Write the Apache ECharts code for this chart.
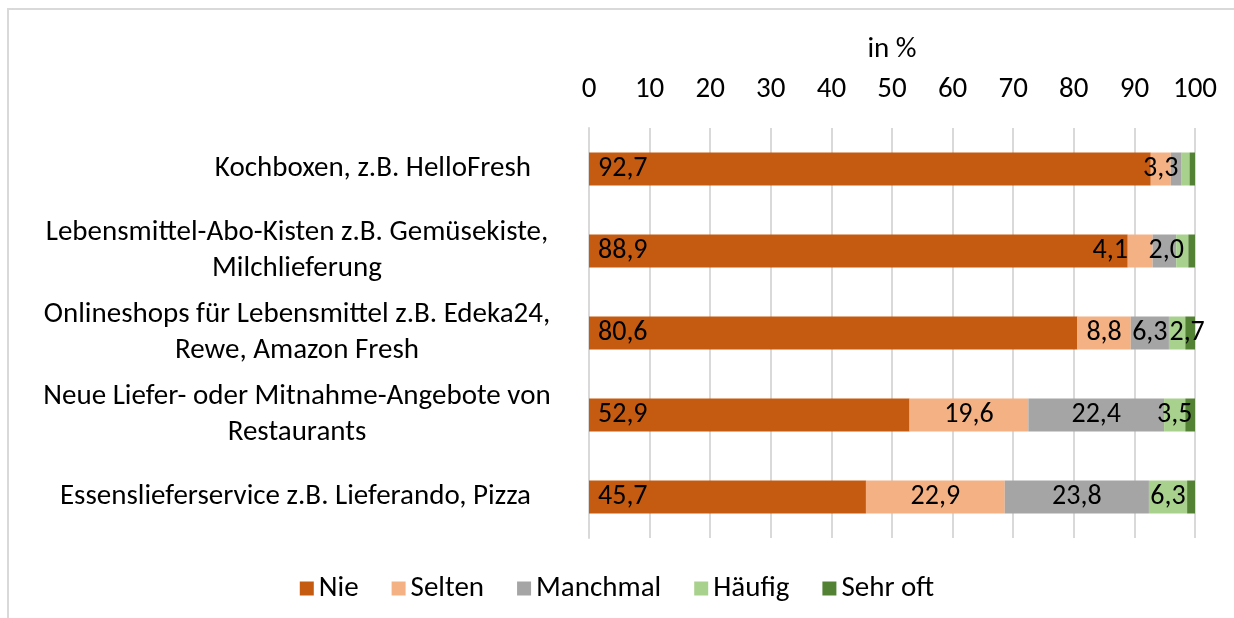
<!DOCTYPE html>
<html>
<head>
<meta charset="utf-8">
<script src="https://cdn.jsdelivr.net/npm/echarts@6/dist/echarts.min.js"></script>
<style>
  html, body { margin: 0; padding: 0; background: #fff; }
  #frame { position: absolute; left: 7px; top: 8px; right: 0; bottom: 0; border-left: 2px solid #D9D9D9; border-top: 2px solid #D9D9D9; }
  #main { position: absolute; left: 0; top: 0; width: 1234px; height: 618px; }
</style>
</head>
<body>
<div id="frame"></div>
<div id="main"></div>
<script>
// Kategorien (von oben nach unten)
const kategorien = [
    'Kochboxen, z.B. HelloFresh',
    'Lebensmittel-Abo-Kisten z.B. Gemüsekiste,\nMilchlieferung',
    'Onlineshops für Lebensmittel z.B. Edeka24,\nRewe, Amazon Fresh',
    'Neue Liefer- oder Mitnahme-Angebote von\nRestaurants',
    'Essenslieferservice z.B. Lieferando, Pizza'
];
const stufen = ['Nie', 'Selten', 'Manchmal', 'Häufig', 'Sehr oft'];

// Werte in %
const nie      = [92.7, 88.9, 80.6, 52.9, 45.7];
const selten   = [3.3, 4.1, 8.8, 19.6, 22.9];
const manchmal = [1.8, 3.9, 6.3, 22.4, 23.8];
const haeufig  = [1.3, 2.0, 2.7, 3.5, 6.3];
const sehrOft  = [0.9, 1.1, 1.6, 1.6, 1.3];

const xTicks = [0, 10, 20, 30, 40, 50, 60, 70, 80, 90, 100];

const farben = ['#C55A11', '#F4B183', '#A5A5A5', '#A9D18E', '#548235'];
const schrift = 'Carlito, Lato, sans-serif';
const gr = 29;

// welche Labels sichtbar sind, [serie][zeile]
const sichtbar = [
    [true, true, true, true, true],
    [true, true, true, true, true],
    [false, false, true, true, true],
    [false, true, true, true, true],
    [false, false, false, false, false]
];
// kleine Verschiebungen wie im Original: 'serie,zeile' -> x
const versatz = {
    '1,1': -30,
    '3,1': -16,
    '3,2': 10
};

const fmt = v => v.toFixed(1).replace('.', ',');

function serie(name, idx, werte) {
    return {
        name: name,
        type: 'bar',
        stack: 'gesamt',
        barWidth: 33,
        itemStyle: { color: farben[idx] },
        data: werte.map((v, z) => {
            const lab = {
                show: sichtbar[idx][z],
                color: '#000',
                fontFamily: schrift,
                fontSize: 28,
                formatter: p => fmt(p.value)
            };
            if (idx === 0) {
                lab.position = 'insideLeft';
                lab.distance = 9;
            } else {
                lab.position = 'inside';
            }
            const k = idx + ',' + z;
            if (versatz[k] !== undefined) lab.offset = [versatz[k], 0];
            return { value: v, label: lab };
        })
    };
}

const myChart = echarts.init(document.getElementById('main'));

const option = {
    animation: false,
    textStyle: { fontFamily: schrift },
    grid: { left: 589, right: 39, top: 128, bottom: 80 },
    legend: {
        data: stufen,
        left: 'center',
        top: 569,
        icon: 'rect',
        itemWidth: 14,
        itemHeight: 14,
        itemGap: 33,
        textStyle: { fontFamily: schrift, fontSize: gr, color: '#000' }
    },
    xAxis: {
        type: 'value',
        position: 'top',
        min: xTicks[0],
        max: xTicks[xTicks.length - 1],
        interval: 10,
        name: 'in %',
        nameLocation: 'middle',
        nameGap: 64,
        nameTextStyle: { fontFamily: schrift, fontSize: gr, color: '#000' },
        axisLine: { show: false },
        axisTick: { show: false },
        axisLabel: { fontFamily: schrift, fontSize: gr, color: '#000', margin: 24 },
        splitLine: { lineStyle: { color: '#D9D9D9', width: 2 } }
    },
    yAxis: {
        type: 'category',
        inverse: true,
        data: kategorien,
        axisLine: { lineStyle: { color: '#D9D9D9', width: 2 } },
        axisTick: { show: false },
        axisLabel: {
            align: 'right',
            margin: 36,
            color: '#000',
            fontFamily: schrift,
            fontSize: gr,
            lineHeight: 36,
            formatter: v => {
                const zeilen = v.split('\n');
                if (zeilen.length === 1) return '{t|' + v + '}{s|}';
                return zeilen.map(z => '{c|' + z + '}').join('\n');
            },
            rich: {
                t: { fontFamily: schrift, fontSize: gr, color: '#000' },
                s: { width: 22 },
                c: { fontFamily: schrift, fontSize: gr, color: '#000', width: 512, align: 'center', lineHeight: 36 }
            }
        }
    },
    series: [
        serie(stufen[0], 0, nie),
        serie(stufen[1], 1, selten),
        serie(stufen[2], 2, manchmal),
        serie(stufen[3], 3, haeufig),
        serie(stufen[4], 4, sehrOft)
    ]
};

myChart.setOption(option);
</script>
</body>
</html>
